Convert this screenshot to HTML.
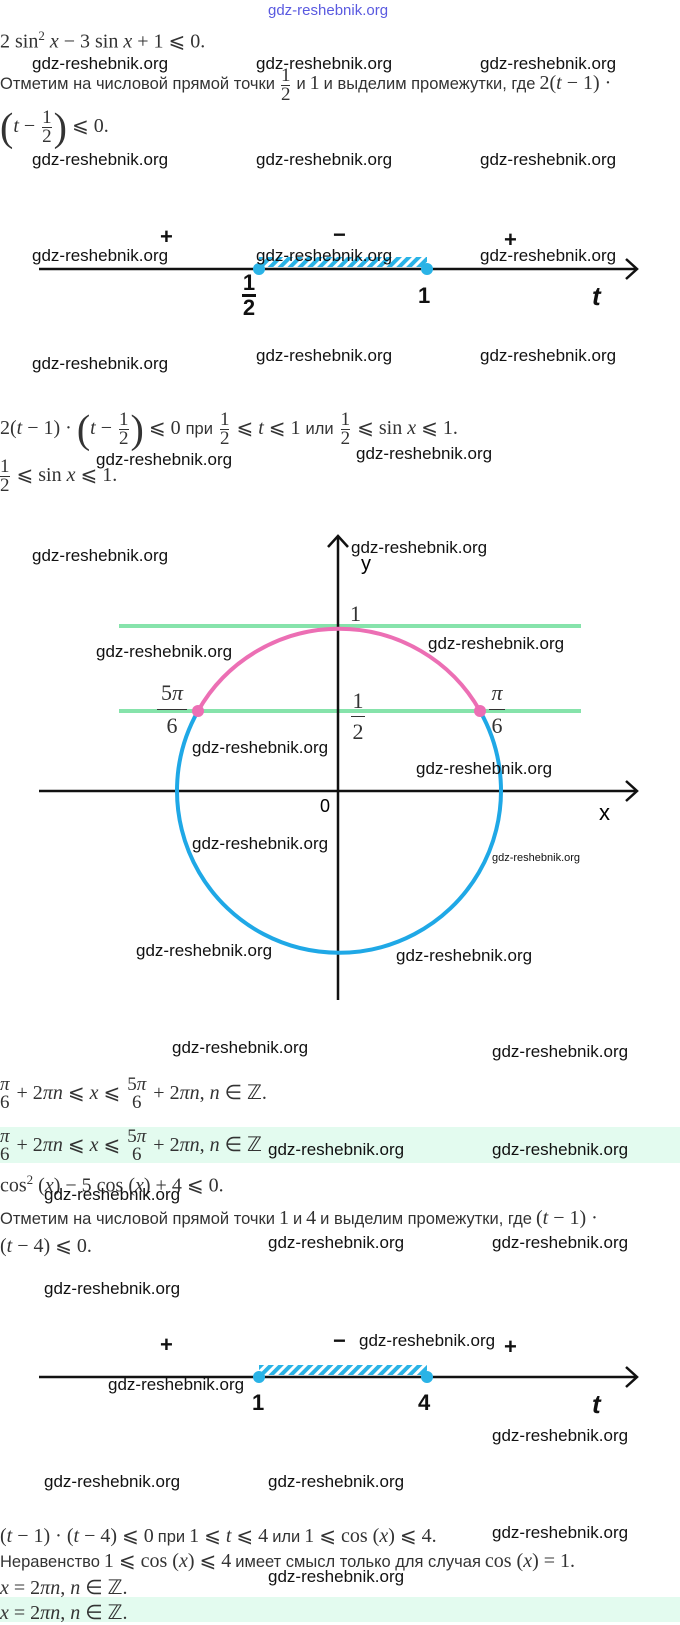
<!DOCTYPE html>
<html><head><meta charset="utf-8">
<style>
body{margin:0;width:680px;height:1622px;position:relative;background:#fff;overflow:hidden}
.a{position:absolute;white-space:nowrap;line-height:20px}
.w{font:17px "Liberation Sans",sans-serif;color:#111}
.m{font:20px "Liberation Serif",serif;color:#333}
.s{font:16.5px "Liberation Sans",sans-serif;color:#333}
.fr{display:inline-block;vertical-align:middle;text-align:center;line-height:18px;margin:0 2px;font-size:19px}
.fr span{display:block}
.fr span:first-child{border-bottom:1px solid #333}
.band{position:absolute;left:0;width:680px;background:#e3fbef}
svg{position:absolute;left:0;top:0}
.big{font:bold 22px "Liberation Sans",sans-serif;color:#111;position:absolute;line-height:22px}
</style></head><body>
<div class="band" style="top:1127px;height:36px"></div>
<div class="band" style="top:1597px;height:25px"></div>

<svg width="680" height="1622">
<defs>
<pattern id="h" width="7" height="7" patternUnits="userSpaceOnUse" patternTransform="rotate(45)">
<rect width="7" height="7" fill="#fff"/><rect width="4" height="7" fill="#2ab3e6"/></pattern>
</defs>
<rect x="259" y="257" width="168" height="10" fill="url(#h)"/>
<line x1="39" y1="269" x2="636" y2="269" stroke="#111" stroke-width="2.5"/>
<polyline points="626,259 637,269 626,279" fill="none" stroke="#111" stroke-width="2.5"/>
<circle cx="259" cy="269" r="6" fill="#2ab3e6"/><circle cx="427" cy="269" r="6" fill="#2ab3e6"/>
<line x1="119" y1="626" x2="581" y2="626" stroke="#86e3ab" stroke-width="4"/>
<line x1="119" y1="711" x2="581" y2="711" stroke="#86e3ab" stroke-width="4"/>
<line x1="39" y1="791" x2="637" y2="791" stroke="#111" stroke-width="2.5"/>
<polyline points="626,781 637,791 626,801" fill="none" stroke="#111" stroke-width="2.5"/>
<line x1="338" y1="1000" x2="338" y2="536" stroke="#111" stroke-width="2.5"/>
<polyline points="328,547 338,536 348,547" fill="none" stroke="#111" stroke-width="2.5"/>
<path d="M198 711 A162 162 0 1 0 480 711" fill="none" stroke="#1fa8e6" stroke-width="4"/>
<path d="M198 711 A162 162 0 0 1 480 711" fill="none" stroke="#ec6fb4" stroke-width="4"/>
<circle cx="198" cy="711" r="6" fill="#ec6fb4"/><circle cx="480" cy="711" r="6" fill="#ec6fb4"/>
<rect x="259" y="1365" width="168" height="10" fill="url(#h)"/>
<line x1="39" y1="1377" x2="636" y2="1377" stroke="#111" stroke-width="2.5"/>
<polyline points="626,1367 637,1377 626,1387" fill="none" stroke="#111" stroke-width="2.5"/>
<circle cx="259" cy="1377" r="6" fill="#2ab3e6"/><circle cx="427" cy="1377" r="6" fill="#2ab3e6"/>
</svg>

<div class="a" style="left:268px;top:2px;font:15px 'Liberation Sans',sans-serif;color:#5a5ae0">gdz-reshebnik.org</div>
<div class="a m" style="left:0;top:28px">2 sin<sup style="font-size:13px">2</sup> <i>x</i> − 3 sin <i>x</i> + 1 ⩽ 0.</div>
<div class="a w" style="left:32px;top:54px">gdz-reshebnik.org</div>
<div class="a w" style="left:256px;top:54px">gdz-reshebnik.org</div>
<div class="a w" style="left:480px;top:54px">gdz-reshebnik.org</div>
<div class="a" style="left:0;top:66px;line-height:38px"><span class="s">Отметим на числовой прямой точки</span> <span class="fr m"><span>1</span><span>2</span></span> <span class="s">и</span> <span class="m">1</span> <span class="s">и выделим промежутки, где</span> <span class="m">2(<i>t</i> − 1) ·</span></div>
<div class="a m" style="left:0;top:104px;line-height:44px"><span style="font-size:40px;vertical-align:middle">(</span><i>t</i> − <span class="fr"><span>1</span><span>2</span></span><span style="font-size:40px;vertical-align:middle">)</span> ⩽ 0.</div>
<div class="a w" style="left:32px;top:150px">gdz-reshebnik.org</div>
<div class="a w" style="left:256px;top:150px">gdz-reshebnik.org</div>
<div class="a w" style="left:480px;top:150px">gdz-reshebnik.org</div>

<div class="big" style="left:160px;top:226px">+</div>
<div class="big" style="left:333px;top:224px">−</div>
<div class="big" style="left:504px;top:229px">+</div>
<div class="a w" style="left:32px;top:246px">gdz-reshebnik.org</div>
<div class="a w" style="left:256px;top:246px">gdz-reshebnik.org</div>
<div class="a w" style="left:480px;top:246px">gdz-reshebnik.org</div>
<div class="big" style="left:242px;top:273px;text-align:center;width:14px;line-height:20px">1<div style="border-top:3px solid #111;margin:1px 0"></div>2</div>
<div class="big" style="left:418px;top:285px">1</div>
<div class="big" style="left:592px;top:285px;font-style:italic;font-size:26px">t</div>
<div class="a w" style="left:32px;top:354px">gdz-reshebnik.org</div>
<div class="a w" style="left:256px;top:346px">gdz-reshebnik.org</div>
<div class="a w" style="left:480px;top:346px">gdz-reshebnik.org</div>

<div class="a m" style="left:0;top:406px;line-height:44px">2(<i>t</i> − 1) · <span style="font-size:40px;vertical-align:middle">(</span><i>t</i> − <span class="fr"><span>1</span><span>2</span></span><span style="font-size:40px;vertical-align:middle">)</span> ⩽ 0 <span class="s">при</span> <span class="fr"><span>1</span><span>2</span></span> ⩽ <i>t</i> ⩽ 1 <span class="s">или</span> <span class="fr"><span>1</span><span>2</span></span> ⩽ sin <i>x</i> ⩽ 1.</div>
<div class="a w" style="left:96px;top:450px">gdz-reshebnik.org</div>
<div class="a w" style="left:356px;top:444px">gdz-reshebnik.org</div>
<div class="a m" style="left:0;top:456px;line-height:38px"><span class="fr" style="margin-left:0"><span>1</span><span>2</span></span> ⩽ sin <i>x</i> ⩽ 1.</div>

<div class="a w" style="left:32px;top:546px">gdz-reshebnik.org</div>
<div class="a w" style="left:351px;top:538px">gdz-reshebnik.org</div>
<div class="a" style="left:361px;top:553px;font:20px 'Liberation Sans',sans-serif">y</div>
<div class="a m" style="left:350px;top:601px;font-size:22px">1</div>
<div class="a w" style="left:96px;top:642px">gdz-reshebnik.org</div>
<div class="a w" style="left:428px;top:634px">gdz-reshebnik.org</div>
<div class="a m" style="left:157px;top:681px;font-size:22px;line-height:24px;text-align:center;width:30px">5<i>π</i><div style="border-top:1px solid #333;margin:4px 0"></div>6</div>
<div class="a m" style="left:489px;top:681px;font-size:22px;line-height:24px;text-align:center;width:16px"><i>π</i><div style="border-top:1px solid #333;margin:4px 0"></div>6</div>
<div class="a m" style="left:351px;top:690px;font-size:22px;line-height:22px;text-align:center;width:14px">1<div style="border-top:1px solid #333;margin:4px 0"></div>2</div>
<div class="a w" style="left:192px;top:738px">gdz-reshebnik.org</div>
<div class="a w" style="left:416px;top:759px">gdz-reshebnik.org</div>
<div class="a" style="left:320px;top:796px;font:18px 'Liberation Sans',sans-serif">0</div>
<div class="a" style="left:599px;top:800px;font:22px 'Liberation Sans',sans-serif">x</div>
<div class="a w" style="left:192px;top:834px">gdz-reshebnik.org</div>
<div class="a" style="left:492px;top:852px;font:11px 'Liberation Sans',sans-serif;color:#111">gdz-reshebnik.org</div>
<div class="a w" style="left:136px;top:941px">gdz-reshebnik.org</div>
<div class="a w" style="left:396px;top:946px">gdz-reshebnik.org</div>
<div class="a w" style="left:172px;top:1038px">gdz-reshebnik.org</div>
<div class="a w" style="left:492px;top:1042px">gdz-reshebnik.org</div>

<div class="a m" style="left:0;top:1074px;line-height:38px"><span class="fr" style="margin-left:0"><span style="border:0"><i>π</i></span><span>6</span></span> + 2<i>πn</i> ⩽ <i>x</i> ⩽ <span class="fr"><span style="border:0">5<i>π</i></span><span>6</span></span> + 2<i>πn</i>, <i>n</i> ∈ ℤ.</div>
<div class="a m" style="left:0;top:1126px;line-height:38px"><span class="fr" style="margin-left:0"><span style="border:0"><i>π</i></span><span>6</span></span> + 2<i>πn</i> ⩽ <i>x</i> ⩽ <span class="fr"><span style="border:0">5<i>π</i></span><span>6</span></span> + 2<i>πn</i>, <i>n</i> ∈ ℤ</div>
<div class="a w" style="left:268px;top:1140px">gdz-reshebnik.org</div>
<div class="a w" style="left:492px;top:1140px">gdz-reshebnik.org</div>
<div class="a m" style="left:0;top:1172px">cos<sup style="font-size:13px">2</sup> (<i>x</i>) − 5 cos (<i>x</i>) + 4 ⩽ 0.</div>
<div class="a w" style="left:44px;top:1185px">gdz-reshebnik.org</div>
<div class="a" style="left:0;top:1207px"><span class="s">Отметим на числовой прямой точки</span> <span class="m">1</span> <span class="s">и</span> <span class="m">4</span> <span class="s">и выделим промежутки, где</span> <span class="m">(<i>t</i> − 1) ·</span></div>
<div class="a m" style="left:0;top:1233px">(<i>t</i> − 4) ⩽ 0.</div>
<div class="a w" style="left:268px;top:1233px">gdz-reshebnik.org</div>
<div class="a w" style="left:492px;top:1233px">gdz-reshebnik.org</div>
<div class="a w" style="left:44px;top:1279px">gdz-reshebnik.org</div>

<div class="big" style="left:160px;top:1334px">+</div>
<div class="big" style="left:333px;top:1330px">−</div>
<div class="big" style="left:504px;top:1336px">+</div>
<div class="a w" style="left:359px;top:1331px">gdz-reshebnik.org</div>
<div class="a w" style="left:108px;top:1375px">gdz-reshebnik.org</div>
<div class="big" style="left:252px;top:1392px">1</div>
<div class="big" style="left:418px;top:1392px">4</div>
<div class="big" style="left:592px;top:1393px;font-style:italic;font-size:26px">t</div>
<div class="a w" style="left:492px;top:1426px">gdz-reshebnik.org</div>
<div class="a w" style="left:44px;top:1472px">gdz-reshebnik.org</div>
<div class="a w" style="left:268px;top:1472px">gdz-reshebnik.org</div>

<div class="a" style="left:0;top:1523px"><span class="m">(<i>t</i> − 1) · (<i>t</i> − 4) ⩽ 0</span> <span class="s">при</span> <span class="m">1 ⩽ <i>t</i> ⩽ 4</span> <span class="s">или</span> <span class="m">1 ⩽ cos (<i>x</i>) ⩽ 4.</span></div>
<div class="a w" style="left:492px;top:1523px">gdz-reshebnik.org</div>
<div class="a" style="left:0;top:1548px"><span class="s">Неравенство</span> <span class="m">1 ⩽ cos (<i>x</i>) ⩽ 4</span> <span class="s">имеет смысл только для случая</span> <span class="m">cos (<i>x</i>) = 1.</span></div>
<div class="a w" style="left:268px;top:1567px">gdz-reshebnik.org</div>
<div class="a m" style="left:0;top:1575px"><i>x</i> = 2<i>πn</i>, <i>n</i> ∈ ℤ.</div>
<div class="a m" style="left:0;top:1600px"><i>x</i> = 2<i>πn</i>, <i>n</i> ∈ ℤ.</div>
</body></html>
